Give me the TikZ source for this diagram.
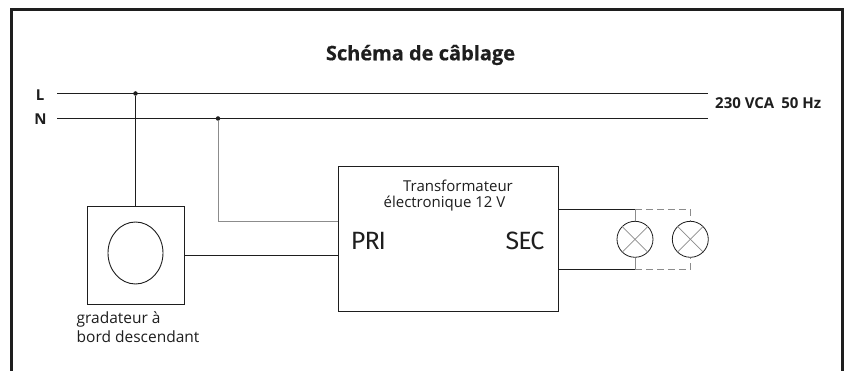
\documentclass[tikz,border=0pt]{standalone}
\usepackage{fontspec}
\setmainfont{Open Sans}
\newfontfamily\firafont{Fira Sans}
\usetikzlibrary{calc,shapes.geometric}
\definecolor{ink}{HTML}{1E1E1E}
\definecolor{wire}{HTML}{8C8C8C}
\tikzset{
  x=1pt,y=-1pt,
  frameline/.style={draw=ink,line width=3pt},
  blackwire/.style={draw=ink,line width=1pt},
  graywire/.style={draw=wire,line width=1pt},
  dashwire/.style={draw=wire,line width=1pt,dash pattern=on 7pt off 4pt},
  box/.style={draw=ink,line width=1pt,inner sep=0,rectangle},
  lamp/.style={circle,draw=ink,line width=.8pt,minimum size=36pt,inner sep=0},
  cross/.style={draw=wire,line width=.7pt},
  junction/.style={circle,fill=ink,inner sep=0,minimum size=4.5pt},
  tlabel/.style={inner sep=0,text=ink,font=\fontsize{15}{17}\selectfont,align=left},
  blabel/.style={inner sep=0,text=ink,font=\fontsize{15}{15}\selectfont\bfseries},
  biglabel/.style={inner sep=0,text=ink,font=\firafont\fontsize{25}{28}\selectfont\addfontfeatures{LetterSpace=-4}},
}
\begin{document}
\begin{tikzpicture}
\useasboundingbox (0,0) rectangle (844,371);
\fill[white] (0,0) rectangle (844,371);
\draw[frameline] (11.5,371) -- (11.5,9.5) -- (842,9.5) -- (842,371);
\node[inner sep=0,text=ink,font=\fontsize{20}{22}\selectfont\bfseries\addfontfeatures{FakeBold=0.5}] (title) at (420.5,55) {Schéma de câblage};
\node[blabel,anchor=center] (L) at (40,95.5) {L};
\node[blabel,anchor=center] (N) at (40.5,119.5) {N};
\node[blabel,anchor=west] (volt) at (715,103.5) {230 VCA\hspace{7pt}50 Hz};
\coordinate (Ls) at (57,93.5);
\coordinate (Le) at (708,93.5);
\coordinate (Ns) at (57,118.5);
\coordinate (Ne) at (708,118.5);
\draw[blackwire] (Ls) -- (Le);
\draw[blackwire] (Ns) -- (Ne);
\node[junction] (j1) at (135.5,93.5) {};
\node[junction] (j2) at (218,118.5) {};
\node[box,minimum width=97pt,minimum height=98pt] (dim) at (136,255.5) {};
\node[draw=ink,line width=.9pt,ellipse,minimum width=55pt,minimum height=62pt,inner sep=0] (knob) at (135.5,253) {};
\node[box,minimum width=220pt,minimum height=145.5pt] (trafo) at (448.5,239) {};
\draw[blackwire] (j1) -- (j1 |- dim.north);
\draw[graywire] (j2) |- ($(trafo.west)+(0,-17)$);
\draw[blackwire] (dim.east |- 0,255.5) -- (trafo.west |- 0,255.5);
\node[tlabel,anchor=center] (tt) at (458,186) {Transformateur};
\node[tlabel,anchor=center] (tu) at (444.5,204) {électronique 12 V};
\node[biglabel] (pri) at (368.5,240.5) {PRI};
\node[biglabel] (sec) at (525,240.5) {SEC};
\node[tlabel,anchor=north west,font=\fontsize{15.5}{18.5}\selectfont] (cap) at (76.5,311.5) {gradateur à\\bord descendant};
\node[lamp] (l1) at (635,239.3) {};
\node[lamp] (l2) at (690.3,239.3) {};
\foreach \n in {l1,l2}{
  \draw[cross] (\n.45) -- (\n.225);
  \draw[cross] (\n.135) -- (\n.315);
}
\coordinate (t1) at (635,209.5);
\coordinate (b1) at (635,269.5);
\coordinate (t2) at (690.3,209.5);
\coordinate (b2) at (690.3,269.5);
\draw[blackwire] (trafo.east |- t1) -- (t1);
\draw[blackwire] (trafo.east |- b1) -- (b1);
\draw[graywire] (t1) -- (l1.north);
\draw[graywire] (b1) -- (l1.south);
\draw[dashwire] (t1) -- (t2) -- (l2.north);
\draw[dashwire] (b1) -- (b2) -- (l2.south);
\end{tikzpicture}
\end{document}
